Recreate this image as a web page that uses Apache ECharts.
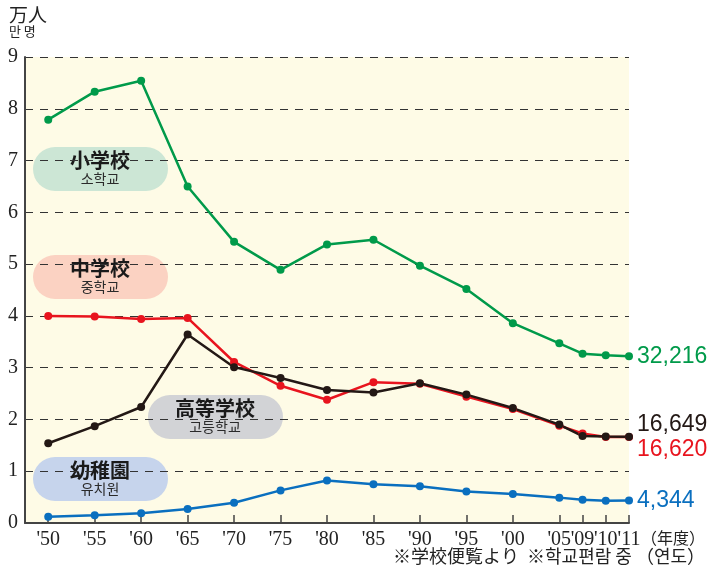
<!DOCTYPE html>
<html>
<head>
<meta charset="utf-8">
<script src="https://cdn.jsdelivr.net/npm/echarts@6/dist/echarts.min.js"></script>
<style>
  html, body { margin: 0; padding: 0; background: #fff; }
  #chart { width: 713px; height: 574px; }
</style>
</head>
<body>
<div id="chart"></div>
<script>
// year labels and where each sits on the (compressed) axis
const years = ["'50", "'55", "'60", "'65", "'70", "'75", "'80", "'85", "'90", "'95", "'00", "'05", "'09", "'10", "'11"];
const slots = [0, 1, 2, 3, 4, 5, 6, 7, 8, 9, 10, 11, 11.5, 12, 12.5];

// students, in units of 10,000
const elementary = [7.79, 8.33, 8.54, 6.50, 5.43, 4.89, 5.38, 5.47, 4.97, 4.52, 3.86, 3.47, 3.27, 3.24, 3.2216];
const middle = [4.00, 3.99, 3.94, 3.96, 3.11, 2.65, 2.38, 2.72, 2.69, 2.44, 2.20, 1.88, 1.73, 1.66, 1.6620];
const high = [1.54, 1.87, 2.24, 3.64, 3.01, 2.80, 2.57, 2.52, 2.70, 2.48, 2.22, 1.90, 1.68, 1.67, 1.6649];
const kinder = [0.12, 0.15, 0.19, 0.27, 0.39, 0.63, 0.82, 0.75, 0.71, 0.61, 0.56, 0.49, 0.45, 0.43, 0.4344];

const endValues = ['32,216', '16,620', '16,649', '4,344'];
const yTicks = [0, 1, 2, 3, 4, 5, 6, 7, 8, 9];

const serif = '"Liberation Serif", "DejaVu Serif", serif';
const cjk = '"Noto Sans CJK JP", "Noto Sans CJK KR", sans-serif';
const sans = '"Liberation Sans", Arial, sans-serif';

const pair = (vals) => vals.map((v, i) => [slots[i], v]);

function lineSeries(name, vals, color, endText, offsetY) {
  return {
    name: name,
    type: 'line',
    data: pair(vals),
    symbol: 'circle',
    symbolSize: 8,
    lineStyle: { color: color, width: 2.5 },
    itemStyle: { color: color },
    endLabel: {
      show: true,
      formatter: () => endText,
      color: color,
      fontFamily: sans,
      fontSize: 23,
      distance: 8,
      offset: [0, offsetY]
    },
    z: 3
  };
}

// rounded label boxes on the plot
function pill(x, y, fill, big, small) {
  return {
    type: 'group',
    left: x,
    top: y,
    children: [
      { type: 'rect', shape: { x: 0, y: 0, width: 135, height: 44, r: 22 }, style: { fill: fill } },
      { type: 'text', x: 67, y: 3, style: { text: big, fill: '#1a1a1a', font: 'bold 20px ' + cjk, align: 'center' } },
      { type: 'text', x: 67, y: 25, style: { text: small, fill: '#2a2a2a', font: '14px ' + cjk, align: 'center' } }
    ]
  };
}

const chart = echarts.init(document.getElementById('chart'));
chart.setOption({
  animation: false,
  grid: {
    left: 25, right: 84, top: 57, bottom: 51,
    show: true, backgroundColor: '#fefbe6', borderWidth: 0
  },
  xAxis: {
    type: 'value',
    min: -0.5,
    max: 12.5,
    axisLine: { lineStyle: { color: '#444', width: 2 } },
    axisTick: { inside: true, length: 8, customValues: slots, lineStyle: { color: '#444', width: 1.5 } },
    axisLabel: {
      customValues: slots,
      formatter: (v) => years[slots.indexOf(v)] || '',
      color: '#222', fontFamily: serif, fontSize: 20, margin: 7
    },
    splitLine: { show: false }
  },
  yAxis: {
    type: 'value',
    min: 0,
    max: 9,
    interval: 1,
    axisLine: { show: true, onZero: false, lineStyle: { color: '#444', width: 2 } },
    axisTick: { show: false },
    axisLabel: {
      formatter: (v) => yTicks.includes(v) ? String(v) : '',
      color: '#222', fontFamily: serif, fontSize: 20, margin: 7
    },
    splitLine: { lineStyle: { color: '#333', type: [8, 7], width: 1.2 } }
  },
  series: [
    lineSeries('小学校', elementary, '#009a4a', endValues[0], 0),
    lineSeries('中学校', middle, '#e8141e', endValues[1], 13),
    lineSeries('高等学校', high, '#231815', endValues[2], -12),
    lineSeries('幼稚園', kinder, '#0a6fbf', endValues[3], 0)
  ],
  graphic: [
    pill(33, 147, '#cce6d5', '小学校', '소학교'),
    pill(33, 255, '#fbd2c2', '中学校', '중학교'),
    pill(148, 395, '#d2d3d6', '高等学校', '고등학교'),
    pill(33, 457, '#c6d4ec', '幼稚園', '유치원'),
    { type: 'text', left: 9, top: 5, style: { text: '万人', fill: '#222', font: '19px ' + cjk } },
    { type: 'text', left: 9, top: 25, style: { text: '만 명', fill: '#222', font: '13px ' + cjk } },
    { type: 'text', left: 641, top: 530, style: { text: '（年度）', fill: '#222', font: '16px ' + cjk } },
    { type: 'text', right: 8, top: 547, style: { text: '※学校便覧より  ※학교편람 중 （연도）', fill: '#222', font: '18px ' + cjk } }
  ]
});
</script>
</body>
</html>
